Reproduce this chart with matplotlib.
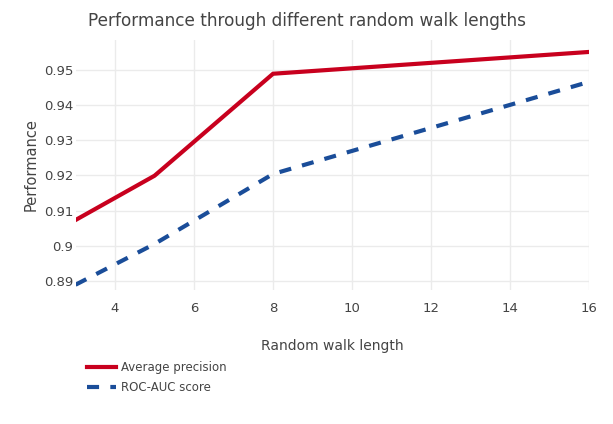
import matplotlib
matplotlib.use('Agg')
import matplotlib.pyplot as plt
from matplotlib.lines import Line2D

# Data
walk_lengths = [3, 5, 8, 16]
avg_precision = [0.9073, 0.9199, 0.9489, 0.9551]
roc_auc = [0.8889, 0.9005, 0.9204, 0.9466]

x_ticks = [4, 6, 8, 10, 12, 14, 16]
y_ticks = [0.89, 0.90, 0.91, 0.92, 0.93, 0.94, 0.95]
y_tick_labels = ['0.89', '0.9', '0.91', '0.92', '0.93', '0.94', '0.95']

red = '#c8001e'
blue = '#1a4d99'
text_color = '#444444'
dash = (2.9, 2.7)

plt.rcParams['font.family'] = ['DejaVu Sans']

fig = plt.figure(figsize=(6.13, 4.24), dpi=100)
ax = fig.add_axes([0.1232, 0.316, 0.8378, 0.5897])

ax.plot(walk_lengths, avg_precision, color=red, linewidth=3, solid_joinstyle='miter',
        label='Average precision', zorder=3)
ax.plot(walk_lengths, roc_auc, color=blue, linewidth=3, dashes=dash,
        label='ROC-AUC score', zorder=3)

ax.set_xlim(3, 16)
ax.set_ylim(0.8874, 0.9585)
ax.set_xticks(x_ticks)
ax.set_yticks(y_ticks)
ax.set_yticklabels(y_tick_labels)

ax.grid(True, color='#ebebeb', linewidth=1)
ax.set_axisbelow(True)
for s in ax.spines.values():
    s.set_visible(False)
ax.tick_params(length=0, colors=text_color, labelsize=9.5)
ax.tick_params(axis='x', pad=8.5)
ax.tick_params(axis='y', pad=1.5)

ax.set_xlabel('Random walk length', fontsize=10, color=text_color, labelpad=17.5)
ax.set_ylabel('Performance', fontsize=10.5, color=text_color, labelpad=4)

fig.text(0.5, 0.951, 'Performance through different random walk lengths',
         ha='center', va='center', fontsize=12.2, color=text_color)

handles = [Line2D([], [], color=red, linewidth=3),
           Line2D([], [], color=blue, linewidth=3, dashes=dash)]
fig.legend(handles, ['Average precision', 'ROC-AUC score'],
           loc='upper left', bbox_to_anchor=(0.1415, 0.148), frameon=False,
           fontsize=8.5, handlelength=2.45, handletextpad=0.42, labelspacing=0.55,
           labelcolor=text_color, borderaxespad=0, borderpad=0)

fig.savefig('out.png', dpi=100)
